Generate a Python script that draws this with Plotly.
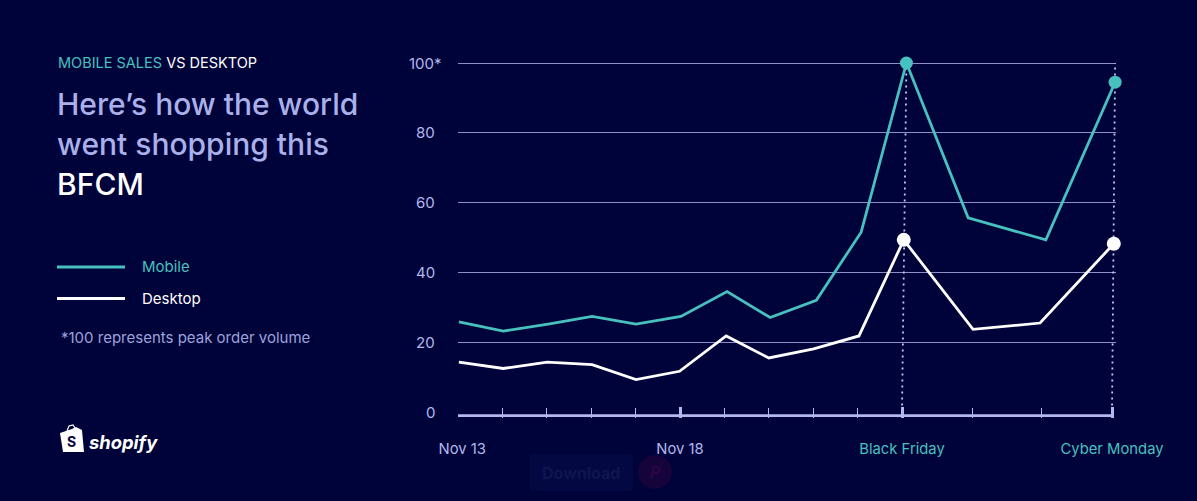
import plotly.graph_objects as go

W, H = 1197, 501
BG = "#00023a"
TEAL = "#47c1bf"
LAV = "#b3b8ec"
GRID = "#8d90c8"
FONT = "Inter"

# Category positions along the time axis (days from Nov 13; Black Friday to Cyber Monday is compressed)
tick_pos = [0, 1, 2, 3, 4, 5, 6, 7, 8, 9, 10, 11.58, 13.15, 14.73]
major_pos = [0, 5, 10, 14.73]
major_labels = ["\u00a0\u00a0Nov 13", "Nov 18", f'<span style="color:{TEAL}">Black Friday</span>',
                f'<span style="color:{TEAL}">Cyber Monday</span>']
minor_pos = [1, 2, 3, 4, 6, 7, 8, 9, 11.58, 13.15]

mobile_x = [0.02, 1.02, 2.03, 3.02, 4.01, 5.02, 6.06, 7.03, 8.07, 9.08, 10.1, 11.49, 13.24, 14.8]
mobile_y = [25.9, 23.3, 25.3, 27.5, 25.3, 27.5, 34.6, 27.2, 32.1, 51.6, 100, 55.7, 49.4, 94.5]
desktop_x = [0.02, 1.02, 2.01, 3.02, 4.01, 4.99, 6.04, 7.0, 8.01, 9.03, 10.04, 11.6, 13.11, 14.77]
desktop_y = [14.4, 12.6, 14.4, 13.7, 9.4, 11.8, 21.9, 15.6, 18.2, 21.9, 49.4, 23.8, 25.6, 48.3]

y_ticks = [0, 20, 40, 60, 80, 100]
y_labels = ["0", "20", "40", "60", "80", "100*"]
peak_idx = [10, 13]

LEFT, RIGHT, TOP, BOTTOM = 458, 1116, 59.5, 418.1
PX_DAY = 44.4
Y_MIN, Y_MAX = -1.6, 101
BASE = -0.9


def px(x):
    return x / W


def py(y):
    return 1 - y / H


fig = go.Figure()

# dotted drop lines
for i in peak_idx:
    fig.add_trace(go.Scatter(
        x=[major_pos[2] if i == 10 else major_pos[3], mobile_x[i]], y=[BASE + 1.2, 100],
        mode="lines", line=dict(color="#c3c7f2", width=1.8, dash="2px,4px"),
        hoverinfo="skip", showlegend=False, cliponaxis=False))

# axis baseline
fig.add_trace(go.Scatter(
    x=[tick_pos[0], tick_pos[-1]], y=[BASE, BASE], mode="lines",
    line=dict(color=LAV, width=2.6), hoverinfo="skip", showlegend=False, cliponaxis=False))

fig.add_trace(go.Scatter(x=mobile_x, y=mobile_y, mode="lines", name="Mobile",
                         line=dict(color=TEAL, width=2.8), cliponaxis=False, showlegend=False))
fig.add_trace(go.Scatter(x=desktop_x, y=desktop_y, mode="lines", name="Desktop",
                         line=dict(color="#ffffff", width=2.8), cliponaxis=False, showlegend=False))
fig.add_trace(go.Scatter(x=[mobile_x[i] for i in peak_idx], y=[mobile_y[i] for i in peak_idx],
                         mode="markers", marker=dict(color=TEAL, size=13), cliponaxis=False, showlegend=False))
fig.add_trace(go.Scatter(x=[desktop_x[i] for i in peak_idx], y=[desktop_y[i] for i in peak_idx],
                         mode="markers", marker=dict(color="#ffffff", size=14), cliponaxis=False, showlegend=False))

ann = []


def text(x, y, s, size, color, anchor="left", weight=400, **kw):
    ann.append(dict(x=px(x), y=py(y), xref="paper", yref="paper", text=s, showarrow=False,
                    xanchor=anchor, yanchor="middle",
                    font=dict(family=FONT, size=size, color=color, weight=weight),
                    borderpad=0, **kw))


text(56.5, 63, f'<span style="color:{TEAL}">MOBILE SALES</span> VS DESKTOP', 14.5, "#ffffff")
text(56, 104, "Here’s how the world", 30, "#a9b0ea", weight=500)
text(56, 144, "went shopping this", 30, "#a9b0ea", weight=500)
text(56, 184, "BFCM", 30, "#ffffff", weight=500)
text(141, 266, "Mobile", 15, TEAL)
text(141, 298, "Desktop", 15, "#ffffff")
text(60, 337.5, "*100 represents peak order volume", 15, "#9da3dc")
text(88, 441.5, "<b><i>shopify</i></b>", 18.4, "#ffffff")
text(581, 473, "<b>Download</b>", 16, "#0e1550", "center")
text(655, 472, "<b><i>P</i></b>", 16, "#2a0644", "center")

for v, lab in zip(y_ticks, y_labels):
    ann.append(dict(x=px(444 if "*" in lab else 436.5), y=v, xref="paper", yref="y", text=lab, showarrow=False,
                    xanchor="right", yanchor="middle",
                    font=dict(family=FONT, size=15, color=LAV)))

shapes = [
    dict(type="line", xref="paper", yref="paper", x0=px(57), x1=px(125), y0=py(267), y1=py(267),
         line=dict(color=TEAL, width=2.8)),
    dict(type="line", xref="paper", yref="paper", x0=px(57), x1=px(125), y0=py(298.5), y1=py(298.5),
         line=dict(color="#ffffff", width=2.8)),
    # faint download button and pin circle
    dict(type="rect", xref="paper", yref="paper", x0=px(530), x1=px(633), y0=py(454), y1=py(491),
         fillcolor="#030843", line=dict(width=0), layer="below"),
    dict(type="circle", xref="paper", yref="paper", x0=px(638), x1=px(672), y0=py(455), y1=py(489),
         fillcolor="#15033a", line=dict(width=0), layer="below"),
]

# shopify bag logo
bag = [(60, 433), (72, 429), (76, 427), (82, 430), (84, 452), (63, 452)]
path = "M " + " L ".join(f"{px(a):.5f},{py(b):.5f}" for a, b in bag) + " Z"
shapes.append(dict(type="path", xref="paper", yref="paper", path=path, fillcolor="#ffffff", line=dict(width=0)))
handle = [(67, 431), (69, 426), (73, 425), (75, 428)]
path2 = "M " + " L ".join(f"{px(a):.5f},{py(b):.5f}" for a, b in handle)
shapes.append(dict(type="path", xref="paper", yref="paper", path=path2, line=dict(color="#ffffff", width=1.2)))
ann.append(dict(x=px(71), y=py(441), xref="paper", yref="paper", text="<b>S</b>", showarrow=False,
                xanchor="center", yanchor="middle", font=dict(family=FONT, size=14, color=BG)))

fig.update_layout(
    width=W, height=H, margin=dict(l=0, r=0, t=0, b=0), paper_bgcolor=BG, plot_bgcolor=BG,
    showlegend=False, annotations=ann, shapes=shapes, hovermode=False,
    font=dict(family=FONT),
    xaxis=dict(domain=[px(LEFT), px(RIGHT)], range=[0, (RIGHT - LEFT) / PX_DAY], showgrid=False,
               automargin=False,
               zeroline=False, showline=False, tickmode="array", tickvals=major_pos, ticktext=major_labels,
               ticks="inside", ticklen=11, tickwidth=3, tickcolor=LAV,
               tickfont=dict(family=FONT, size=14.8, color=LAV), ticklabelstandoff=20,
               minor=dict(tickmode="array", tickvals=minor_pos, ticks="inside", ticklen=10,
                          tickwidth=1, tickcolor=LAV, showgrid=False)),
    yaxis=dict(domain=[py(BOTTOM), py(TOP)], range=[Y_MIN, Y_MAX], zeroline=False, showline=False,
               automargin=False,
               tickmode="array", tickvals=y_ticks[1:], showticklabels=False, ticks="",
               showgrid=True, gridcolor=GRID, gridwidth=1),
)

fig.write_html("out.html", config=dict(displayModeBar=False),
               post_script="document.body.style.margin='0';document.documentElement.style.background='%s';document.body.style.overflow='hidden';" % BG)
